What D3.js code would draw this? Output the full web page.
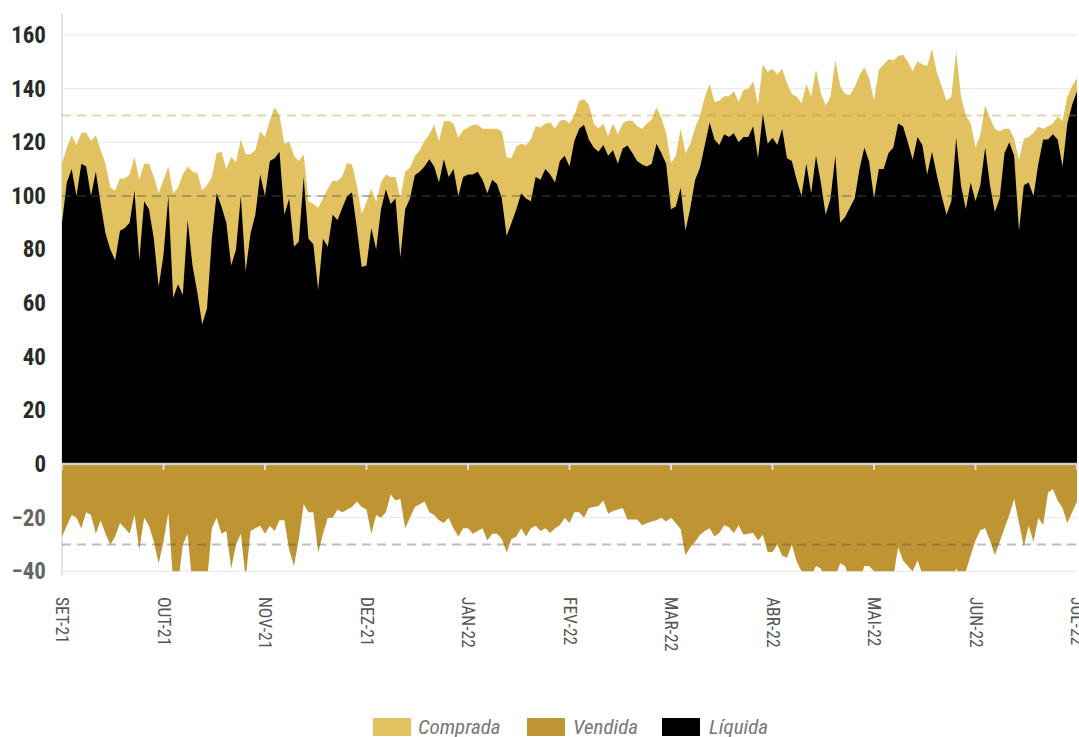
<!DOCTYPE html>
<html>
<head>
<meta charset="utf-8">
<script src="https://cdn.jsdelivr.net/npm/d3@7"></script>
<style>
  html, body { margin: 0; padding: 0; background: #fff; }
  svg { display: block; }
</style>
</head>
<body>
<svg id="chart" width="1079" height="737"></svg>
<script>
// ---- Data (one value per trading session) ----
const monthLabels = ["SET-21","OUT-21","NOV-21","DEZ-21","JAN-22","FEV-22","MAR-22","ABR-22","MAI-22","JUN-22","JUL-22"];
const sessionsPerLabel = 21;
const yTicks = [-40,-20,0,20,40,60,80,100,120,140,160];
const refLines = [130, 100, -30];

const comprada = [
  112,118,122.5,119,123.5,123.5,120.5,122.5,117,112,103,102,106.5,106.5,108,114.5,106,112,112,107,101,
  106,111,101,103,108,111,109,108.5,102,104,107,116,116.5,110,114.5,112.5,121,115.5,115.5,117,124,
  122,128,133,130,119.4,120.3,115,113,115.5,98,97,95.6,99,102.7,105.6,105.6,107.3,112.3,111.7,104,93.2,
  97.7,102.7,97.7,105,108,107,107,99,109,110.6,114.8,117,120.5,123,126.5,120.3,127.7,128,127,121.7,124.5,
  125.5,126.5,126.5,125,125,125,125,124,114.4,114.1,118.4,119.4,119,121,126,125.5,127,127.4,125,128,128.4,
  127,130,135.5,136,134,127,125.1,127,122.2,127,123,127,128,128,126,125,127,128.5,133,129,123.4,
  112.3,115,125,116,119.4,125.5,129.8,137,141.7,135,135.5,137.2,137.2,139,135,139.5,140,142.7,134,149,146.3,
  147.3,145.3,147.4,142,138,137,134.5,141.7,137,147,138.4,133.7,137,150.8,141,138,137.6,140.5,145,148,144,
  135.5,147,149,151,150.5,152.2,152.6,150,146.5,150.2,149,148.4,154.8,146,141,135.5,137,154,137,130,127,
  118,122.7,133.7,129,125,124,125,125,121.3,113.4,121.3,122,123.5,125.8,125,126,127,129.5,128,137,141,
  144
];

const vendida = [
  -27,-23,-19,-20,-24,-18,-19,-26,-21,-26,-30,-27,-22,-24,-26,-19,-32,-20,-23,-29,-37,
  -29,-18,-44,-45,-30,-26,-46,-50,-48,-44,-24,-20,-26,-25,-39,-30,-26,-43,-25,-24,-23,
  -26,-23,-25,-21,-21,-32,-38,-28,-15,-18,-18,-33,-26,-20,-20,-17,-18,-17,-16,-14,-16,
  -17,-26,-19,-20,-18,-11.4,-13.6,-13,-24,-20,-16,-15,-14,-18,-19,-21,-22,-20,-24,-27,-24,
  -24,-26,-25,-24,-28.5,-26,-26,-28,-33,-28,-27,-24,-27,-24,-23,-25,-24,-25.7,-24,-22.8,-20,
  -22,-18,-18,-20,-16.4,-16,-15.7,-13.6,-18.5,-17.5,-17,-16.4,-20.7,-20.7,-20.7,-22.8,-22,-21.4,-21,-20,-21.4,
  -20,-22,-24.3,-34,-31,-29,-26.4,-25,-24,-27,-25.7,-22.8,-23.6,-25.7,-22.8,-26.4,-26,-25.7,-28.5,-26.4,-32.8,
  -32.8,-30,-34.2,-35,-30,-36.4,-40,-43,-42,-38,-39,-44,-45,-42,-37,-38,-43,-45,-44,-38,-38,
  -40,-44,-46,-44,-42,-31,-36,-38,-40,-36,-41,-44,-46,-45,-47,-46,-44,-39,-42,-40,-34,
  -28.5,-24.7,-24,-28.5,-34,-29,-24,-19,-13,-22,-30.7,-23,-29,-20,-22.8,-10.7,-9.3,-13.6,-16.4,-22,-18,
  -14
];

const liquida = [
  90,105,110,100,112,111,100,109,97,86,80,76,87,88,90,102,76,98,95,84,66,
  78,100,62,67,63,91,74,64,52,58,84,101,96,90,74,80,100,72,86,93,108,
  100,113,114,116.5,93,99,81,83,107,84,82,65,84,81,93,91,95.6,100,101.3,88,73.5,
  74,88,80,95,102.5,97,99,77,95,99,107.7,109,111,113.7,111,105,113.7,107,110,100,107,
  108,108,109,106,101,106,104.4,99,85,90,95,101,99,98,107,106,110,108,105,113,115,
  111,120.5,125,126.5,121,118,116.5,119,115,117,112,117.7,118.8,116,113,111.7,111,112,119.4,116,112,
  95,96,103,87,95.6,106,110.6,119,127.4,121,119,123,122,123.4,120,122,122,126,114,130.5,119.4,
  121.7,119,125,114,113,106,100,112,101,115,105,93,99,115,90,92,95.6,99,110,118,112.7,
  99,110,110,116,118,127,126,120,113.5,122,119,108,116.5,107.7,100,93,98,121.7,104,95,105,
  98,104,118,104,94,99,116,120,115,87,104,105,100,112,121,121,123,121,111,127,134,
  139
];

const seriesNames = ["Comprada","Vendida","Líquida"];
const seriesColors = ["#e2c160","#bf9432","#000000"];

// ---- Layout ----
const svg = d3.select("#chart");
const plotLeft = 62, plotRight = 1077;
const n = comprada.length;

const x = d3.scaleLinear().domain([0, n - 1]).range([plotLeft, plotRight]);
const y = d3.scaleLinear().domain([-40, 160]).range([571.25, 35]);
const yTopValue = 168;

const FONT = "'Liberation Sans Narrow', 'Roboto Condensed', 'Arial Narrow', 'Liberation Sans', Arial, sans-serif";

// clip
svg.append("defs").append("clipPath").attr("id", "plotclip")
  .append("rect")
  .attr("x", plotLeft).attr("y", y(yTopValue))
  .attr("width", plotRight - plotLeft).attr("height", y(-40) - y(yTopValue));

// gridlines
svg.append("g").selectAll("line").data(yTicks).join("line")
  .attr("x1", plotLeft).attr("x2", plotRight)
  .attr("y1", d => y(d)).attr("y2", d => y(d))
  .attr("stroke", "#e8e8e8").attr("stroke-width", 1);

// y axis line
svg.append("line")
  .attr("x1", plotLeft).attr("x2", plotLeft)
  .attr("y1", y(yTopValue)).attr("y2", y(-40) + 4)
  .attr("stroke", "#e3e3e3").attr("stroke-width", 2);

const idx = d3.range(n);
const plot = svg.append("g").attr("clip-path", "url(#plotclip)");

const areaOf = arr => d3.area()
  .x(i => x(i))
  .y0(y(0))
  .y1(i => y(arr[i]));

plot.append("path").datum(idx).attr("d", areaOf(comprada)).attr("fill", seriesColors[0]);
plot.append("path").datum(idx).attr("d", areaOf(vendida)).attr("fill", seriesColors[1]);
plot.append("path").datum(idx).attr("d", areaOf(liquida)).attr("fill", seriesColors[2]);

// reference dashed lines
const refColors = {130: "rgba(185,145,60,0.38)", 100: "rgba(80,80,80,0.38)", "-30": "rgba(80,80,80,0.38)"};
svg.append("g").selectAll("line").data(refLines).join("line")
  .attr("x1", plotLeft).attr("x2", plotRight)
  .attr("y1", d => y(d)).attr("y2", d => y(d))
  .attr("stroke", d => refColors[d])
  .attr("stroke-width", 2)
  .attr("stroke-dasharray", "9,6");

// zero line with tick marks
const tickIdx = d3.range(0, n, sessionsPerLabel);
svg.append("line")
  .attr("x1", plotLeft).attr("x2", plotRight)
  .attr("y1", y(0)).attr("y2", y(0))
  .attr("stroke", "#cfcfcf").attr("stroke-width", 2.5);
svg.append("g").selectAll("line").data(tickIdx).join("line")
  .attr("x1", d => x(d)).attr("x2", d => x(d))
  .attr("y1", y(0)).attr("y2", y(0) + 6)
  .attr("stroke", "#e0e0e0").attr("stroke-width", 2);

// y axis labels
const yAxis = svg.append("g")
  .attr("transform", `translate(46,0)`)
  .call(d3.axisLeft(y).tickValues(yTicks).tickSize(0).tickPadding(0).tickFormat(d3.format("d")));
yAxis.select(".domain").remove();
yAxis.selectAll("text")
  .attr("font-family", FONT)
  .attr("font-weight", "bold")
  .attr("font-size", 23)
  .attr("fill", d => d < 0 ? "#666" : "#2a2a2a");

// x axis labels (rotated)
const xAxis = svg.append("g")
  .attr("transform", `translate(0,590)`)
  .call(d3.axisBottom(x).tickValues(tickIdx).tickSize(0)
    .tickFormat((d, i) => monthLabels[i]));
xAxis.select(".domain").remove();
xAxis.selectAll("text")
  .attr("font-family", FONT)
  .attr("font-size", 17.5)
  .attr("fill", "#555")
  .attr("text-anchor", "start")
  .attr("transform", "rotate(90)")
  .attr("x", 7).attr("y", 0).attr("dy", "0.35em");

// legend
const legendItems = [
  {name: seriesNames[0], color: seriesColors[0], sx: 373, tx: 418},
  {name: seriesNames[1], color: seriesColors[1], sx: 527, tx: 573},
  {name: seriesNames[2], color: seriesColors[2], sx: 662, tx: 709}
];
const lg = svg.append("g");
lg.selectAll("rect").data(legendItems).join("rect")
  .attr("x", d => d.sx).attr("y", 718).attr("width", 38).attr("height", 18)
  .attr("fill", d => d.color);
lg.selectAll("text").data(legendItems).join("text")
  .attr("x", d => d.tx).attr("y", 734)
  .attr("font-family", FONT)
  .attr("font-style", "italic")
  .attr("font-size", 21)
  .attr("fill", "#777")
  .text(d => d.name);
</script>
</body>
</html>
